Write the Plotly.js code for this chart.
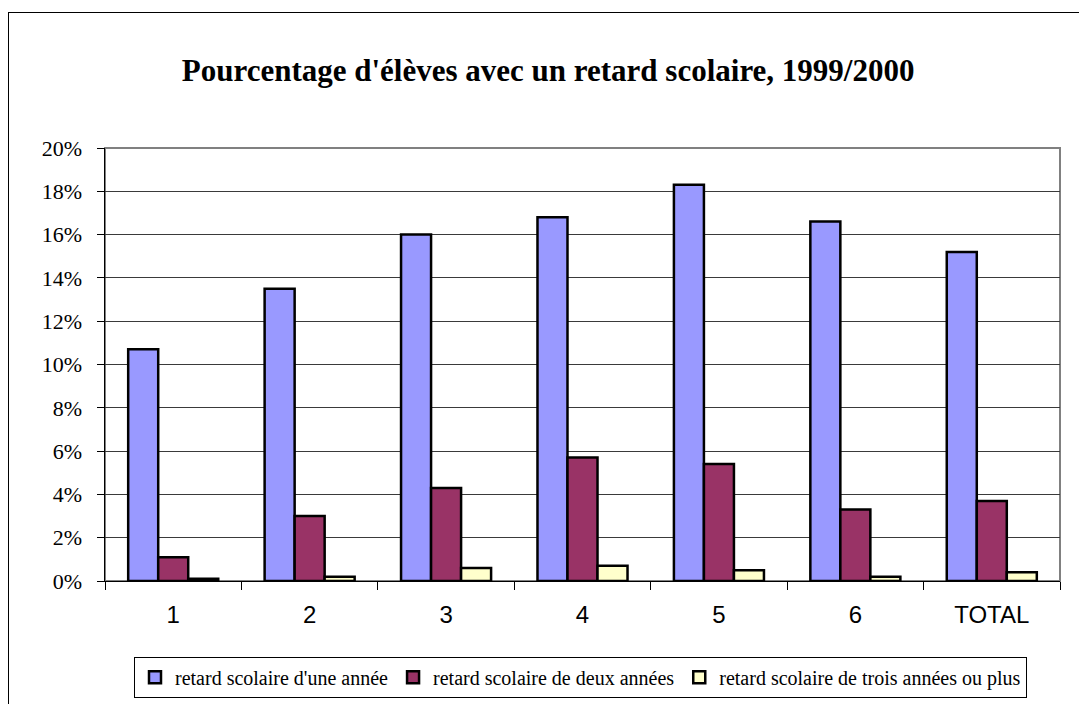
<!DOCTYPE html>
<html><head><meta charset="utf-8">
<script src="https://cdn.plot.ly/plotly-3.0.1.min.js"></script>
<style>
html,body{margin:0;padding:0;background:#fff;overflow:hidden;}
#frame{position:absolute;left:8px;top:12px;width:1200px;height:800px;border-left:1px solid #000;border-top:1px solid #000;pointer-events:none;z-index:5;}
#chart{position:absolute;left:0;top:0;width:1079px;height:704px;}
</style></head>
<body>
<div id="chart"></div>
<div id="frame"></div>
<script>
const categories = ["1", "2", "3", "4", "5", "6", "TOTAL"];
const seriesNames = ["retard scolaire d'une année", "retard scolaire de deux années", "retard scolaire de trois années ou plus"];
const unAn = [10.7, 13.5, 16.0, 16.8, 18.3, 16.6, 15.2];
const deuxAns = [1.1, 3.0, 4.3, 5.7, 5.4, 3.3, 3.7];
const troisAns = [0.1, 0.2, 0.6, 0.7, 0.5, 0.2, 0.4];
const colors = ["#9999FF", "#993366", "#FFFFCC"];
const yTicks = [0, 2, 4, 6, 8, 10, 12, 14, 16, 18, 20];
const yTickText = yTicks.map(v => v + "%");

const series = [unAn, deuxAns, troisAns];
const traces = series.map((vals, i) => ({
  type: "bar",
  name: seriesNames[i],
  x: categories,
  y: vals,
  marker: {color: colors[i], line: {color: "#000", width: 2.5}},
  hoverinfo: "skip"
}));

const layout = {
  width: 1079, height: 704,
  margin: {l: 105, r: 19, t: 148, b: 123},
  paper_bgcolor: "#fff", plot_bgcolor: "#fff",
  barmode: "group", bargap: 0.34, bargroupgap: 0,
  title: {
    text: "<b>Pourcentage d'élèves avec un retard scolaire, 1999/2000</b>",
    font: {family: "Liberation Serif, Times New Roman, serif", size: 31, color: "#000"},
    xref: "container", x: 0.508, xanchor: "center",
    yref: "container", y: 0.9, yanchor: "middle"
  },
  xaxis: {
    type: "category",
    tickson: "boundaries",
    ticks: "outside", ticklen: 8, tickcolor: "#000", tickwidth: 1,
    ticklabelstandoff: 12,
    showline: true, linecolor: "#000", linewidth: 1,
    showgrid: false,
    tickfont: {family: "Liberation Sans, Arial, sans-serif", size: 24, color: "#000"},
    fixedrange: true
  },
  yaxis: {
    range: [0, 20],
    tickvals: yTicks, ticktext: yTickText,
    ticks: "outside", ticklen: 7, tickcolor: "#000", tickwidth: 1,
    ticklabelstandoff: 10,
    showline: true, linecolor: "#000", linewidth: 1.5,
    showgrid: true, gridcolor: "#3a3a3a", gridwidth: 1,
    zeroline: false,
    tickfont: {family: "Liberation Serif, Times New Roman, serif", size: 22, color: "#000"},
    fixedrange: true
  },
  shapes: [{
    type: "rect", xref: "paper", yref: "paper", x0: 0, x1: 1, y0: 0, y1: 1,
    line: {color: "#808080", width: 2}, layer: "below"
  }],
  legend: {
    orientation: "h",
    xref: "container", yref: "container",
    x: 0.538, xanchor: "center", y: 0.038, yanchor: "middle",
    bordercolor: "#000", borderwidth: 1, bgcolor: "#fff",
    font: {family: "Liberation Serif, Times New Roman, serif", size: 20, color: "#000"},
    itemwidth: 30, tracegroupgap: 0,
    itemclick: false, itemdoubleclick: false
  },
  showlegend: true
};

Plotly.newPlot("chart", traces, layout, {displayModeBar: false, staticPlot: true});
</script>
</body></html>
